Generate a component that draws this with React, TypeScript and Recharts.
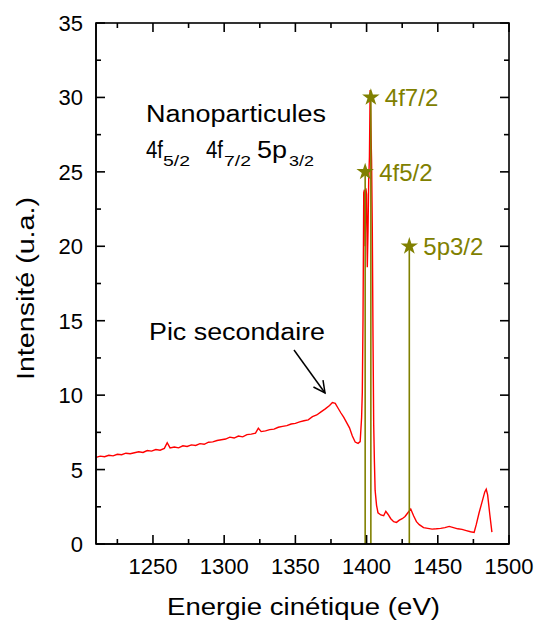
// XPS-like spectrum: intensity vs kinetic energy, with marked 4f / 5p peaks

import React from 'react';
import { ComposedChart, Line, Scatter, XAxis, YAxis, ZAxis, Symbols } from 'recharts';

// spectrum
const energy = [
  1210, 1213, 1216, 1219, 1222, 1225, 1228, 1231, 1234, 1237,
  1240, 1243, 1246, 1249, 1252, 1255, 1258, 1260, 1262, 1265,
  1268, 1271, 1274, 1277, 1280, 1283, 1286, 1289, 1292, 1295,
  1298, 1301, 1304, 1307, 1310, 1313, 1316, 1319, 1322, 1324,
  1326, 1329, 1332, 1335, 1338, 1341, 1344, 1347, 1350, 1353,
  1356, 1359, 1362, 1365, 1368, 1371, 1374, 1376, 1378, 1380,
  1382, 1384, 1386, 1388, 1390, 1392, 1394, 1395.5, 1396.5, 1397,
  1397.5, 1398, 1398.5, 1399, 1399.5, 1400, 1400.5, 1401, 1401.5, 1402,
  1402.5, 1403, 1403.5, 1404, 1404.5, 1405, 1405.5, 1406, 1407, 1408,
  1410, 1412, 1413.5, 1415, 1417, 1419, 1421, 1423, 1425, 1427,
  1429, 1431, 1433, 1435, 1437, 1440, 1443, 1446, 1449, 1452,
  1455, 1458, 1461, 1464, 1467, 1470, 1473, 1475.5, 1477, 1479,
  1481, 1483, 1484, 1485, 1486.5, 1488,
];
const intensity = [
  5.82, 5.9, 5.86, 5.96, 5.92, 6.03, 6.0, 6.1, 6.06, 6.13,
  6.2, 6.15, 6.28, 6.24, 6.35, 6.3, 6.42, 6.8, 6.46, 6.52,
  6.46, 6.6, 6.55, 6.66, 6.62, 6.74, 6.7, 6.84, 6.86, 6.95,
  7.0, 7.05, 7.18, 7.12, 7.25, 7.2, 7.35, 7.38, 7.45, 7.78,
  7.55, 7.6, 7.68, 7.72, 7.84, 7.9, 7.95, 8.06, 8.1, 8.2,
  8.28, 8.34, 8.55, 8.67, 8.88, 9.08, 9.3, 9.5, 9.45, 9.12,
  8.8, 8.5, 8.15, 7.8, 7.25, 6.85, 6.76, 6.88, 8.5, 10.2,
  15.2, 23.6, 23.8, 20.0, 23.9, 23.5, 18.6, 21.0, 24.5, 26.0,
  30.5, 28.0, 25.8, 21.3, 14.0, 8.0, 5.5, 3.6, 2.6, 2.1,
  1.95, 1.9, 2.2, 2.0, 1.7, 1.5, 1.45, 1.6, 1.7, 1.85,
  2.1, 2.35, 1.9, 1.5, 1.3, 1.1, 1.05, 1.0, 1.02, 1.05,
  1.1, 1.18, 1.1, 1.02, 0.98, 0.9, 0.82, 0.78, 1.3, 2.1,
  2.8, 3.5, 3.68, 3.3, 2.0, 0.8,
];

const peakNames = ['4f5/2', '4f7/2', '5p3/2'];
const peakEnergy = [1399, 1403, 1430];
const peakHeight = [25, 30, 20];

const xTicks = [1225, 1250, 1275, 1300, 1325, 1350, 1375, 1400, 1425, 1450, 1475, 1500];
const xLabels = [1250, 1300, 1350, 1400, 1450, 1500];
const yTicks = [0, 2.5, 5, 7.5, 10, 12.5, 15, 17.5, 20, 22.5, 25, 27.5, 30, 32.5, 35];
const yLabels = [0, 5, 10, 15, 20, 25, 30, 35];
const xDomain = [1210, 1500];
const yDomain = [0, 35];

const spectrum = energy.map((e, i) => ({ e, v: intensity[i] }));
const peaks = peakNames.map((name, i) => ({ name, e: peakEnergy[i], v: peakHeight[i] }));

const W = 536;
const H = 621;
const margin = { top: 23, right: 27, bottom: 27, left: 36 };
const yAxisW = 60;
const xAxisH = 50;
const plotW = W - margin.right - margin.left - yAxisW;
const plotH = H - margin.bottom - xAxisH - margin.top;

const FONT = '"Liberation Sans", Arial, Helvetica, sans-serif';
const OLIVE = '#808000';
const AXIS = '#000';

// ticks point into the plot, Origin style, mirrored on the top/right edges
const BottomTick = (p: any) => {
  const v = p.payload.value;
  const major = xLabels.includes(v);
  const x = Number(p.x);
  const y = Number(p.y);
  const len = major ? 9 : 5;
  return (
    <g>
      <line x1={x} x2={x} y1={y} y2={y - len} stroke={AXIS} strokeWidth={1.6} />
      <line x1={x} x2={x} y1={y - plotH} y2={y - plotH + len} stroke={AXIS} strokeWidth={1.6} />
      {major && (
        <text x={x} y={y + 30} textAnchor="middle" fontSize={22} fontFamily={FONT} fill="#000">
          {v}
        </text>
      )}
    </g>
  );
};

const LeftTick = (p: any) => {
  const v = p.payload.value;
  const major = yLabels.includes(v);
  const x = Number(p.x);
  const y = Number(p.y);
  const len = major ? 9 : 5;
  return (
    <g>
      <line x1={x} x2={x + len} y1={y} y2={y} stroke={AXIS} strokeWidth={1.6} />
      <line x1={x + plotW} x2={x + plotW - len} y1={y} y2={y} stroke={AXIS} strokeWidth={1.6} />
      {major && (
        <text x={x - 13} y={y + 8} textAnchor="end" fontSize={22} fontFamily={FONT} fill="#000">
          {v}
        </text>
      )}
    </g>
  );
};

const StarShape = (p: any) => (
  <g>
    <Symbols cx={p.cx} cy={p.cy} type="star" size={95} fill={OLIVE} />
    <text x={p.cx + 14} y={p.cy + 9} fontSize={24} fontFamily={FONT} fill={OLIVE}>
      {p.payload.name}
    </text>
  </g>
);

// arrow for "Pic secondaire"
const arrow = { x1: 294, y1: 350, x2: 325, y2: 393 };
const arrowHead = () => {
  const a = Math.atan2(arrow.y2 - arrow.y1, arrow.x2 - arrow.x1);
  const len = 13;
  const spread = 0.47;
  const w1 = [arrow.x2 - len * Math.cos(a - spread), arrow.y2 - len * Math.sin(a - spread)];
  const w2 = [arrow.x2 - len * Math.cos(a + spread), arrow.y2 - len * Math.sin(a + spread)];
  return `M${w1[0]},${w1[1]} L${arrow.x2},${arrow.y2} L${w2[0]},${w2[1]}`;
};

export default function App() {
  return (
    <div style={{ position: 'relative', width: W, height: H, background: '#fff' }}>
      <style>{'body{margin:0}'}</style>
      <ComposedChart width={W} height={H} margin={margin}>
        <XAxis
          dataKey="e"
          type="number"
          domain={xDomain}
          ticks={xTicks}
          interval={0}
          tickSize={0}
          tickMargin={0}
          tickLine={false}
          axisLine={{ stroke: AXIS, strokeWidth: 1.6 }}
          height={xAxisH}
          tick={BottomTick}
        />
        <YAxis
          type="number"
          domain={yDomain}
          ticks={yTicks}
          interval={0}
          tickSize={0}
          tickMargin={0}
          tickLine={false}
          axisLine={{ stroke: AXIS, strokeWidth: 1.6 }}
          width={yAxisW}
          tick={LeftTick}
        />
        <ZAxis range={[95, 95]} />
        <Line
          data={spectrum}
          dataKey="v"
          type="linear"
          stroke="#ff0000"
          strokeWidth={1.4}
          dot={false}
          activeDot={false}
          isAnimationActive={false}
        />
        {peaks.map((pk) => (
          <Line
            key={pk.name}
            data={[{ e: pk.e, v: 0 }, { e: pk.e, v: pk.v }]}
            dataKey="v"
            type="linear"
            stroke={OLIVE}
            strokeWidth={1.6}
            dot={false}
            activeDot={false}
            isAnimationActive={false}
          />
        ))}
        <Scatter data={peaks} dataKey="v" shape={StarShape} isAnimationActive={false} />
      </ComposedChart>
      <svg
        width={W}
        height={H}
        style={{ position: 'absolute', left: 0, top: 0, pointerEvents: 'none' }}
        fontFamily={FONT}
      >
        {/* closing top and right edges of the box */}
        <rect
          x={margin.left + yAxisW}
          y={margin.top}
          width={plotW}
          height={plotH}
          fill="none"
          stroke={AXIS}
          strokeWidth={1.6}
        />
        <text x={146} y={122} fontSize={23} textLength={180} lengthAdjust="spacingAndGlyphs" fill="#000">
          Nanoparticules
        </text>
        <text fontSize={23} fill="#000">
          <tspan x={146} y={158} textLength={17} lengthAdjust="spacingAndGlyphs">4f</tspan>
          <tspan x={163} y={166} fontSize={15} textLength={27} lengthAdjust="spacingAndGlyphs">5/2</tspan>
          <tspan x={206} y={158} textLength={17} lengthAdjust="spacingAndGlyphs">4f</tspan>
          <tspan x={224} y={166} fontSize={15} textLength={27} lengthAdjust="spacingAndGlyphs">7/2</tspan>
          <tspan x={257} y={158} textLength={30} lengthAdjust="spacingAndGlyphs">5p</tspan>
          <tspan x={289} y={166} fontSize={15} textLength={25} lengthAdjust="spacingAndGlyphs">3/2</tspan>
        </text>
        <text x={149} y={340} fontSize={23} textLength={176} lengthAdjust="spacingAndGlyphs" fill="#000">
          Pic secondaire
        </text>
        <line x1={arrow.x1} y1={arrow.y1} x2={arrow.x2} y2={arrow.y2} stroke="#000" strokeWidth={1.5} />
        <path d={arrowHead()} fill="none" stroke="#000" strokeWidth={1.5} />
        <text
          x={303.5}
          y={615}
          fontSize={23}
          textAnchor="middle"
          textLength={273}
          lengthAdjust="spacingAndGlyphs"
          fill="#000"
        >
          Energie cinétique (eV)
        </text>
        <text
          transform="translate(33.5,288.5) rotate(-90)"
          fontSize={23}
          textAnchor="middle"
          textLength={183}
          lengthAdjust="spacingAndGlyphs"
          fill="#000"
        >
          Intensité (u.a.)
        </text>
      </svg>
    </div>
  );
}
